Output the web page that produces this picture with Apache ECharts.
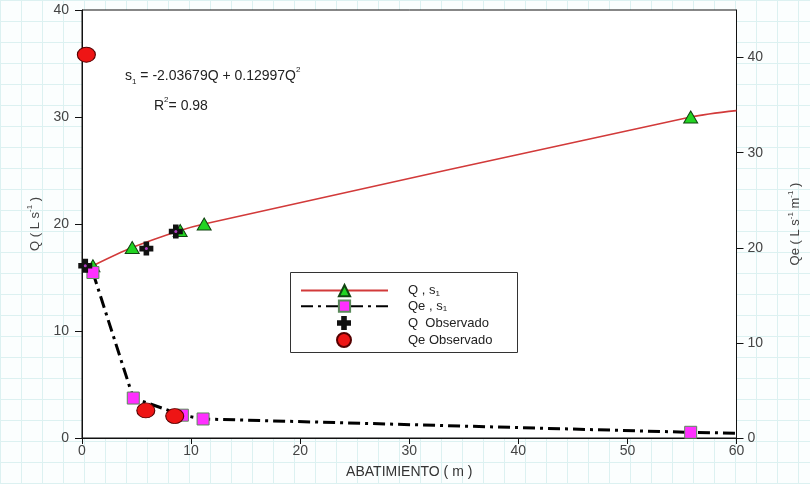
<!DOCTYPE html>
<html><head><meta charset="utf-8">
<script src="https://cdn.jsdelivr.net/npm/echarts@6/dist/echarts.min.js"></script>
<style>
html,body{margin:0;padding:0;}
body{width:810px;height:484px;background-color:#fbfefe;
background-image:linear-gradient(to right,#dcf1f1 1px,transparent 1px),linear-gradient(to bottom,#dcf1f1 1px,transparent 1px);
background-size:21px 21px;}
#c{width:810px;height:484px;}
</style></head><body>
<div id="c"></div>
<script>
// ---- data ----
const qFitX = [1.0, 4.6, 9.0, 11.2, 55.8, 60];
const qFitY = [16.1, 17.8, 19.4, 20.0, 30.0, 30.6];
const qFitMarker = [true, true, true, true, true, false];
const qeFitX = [1.0, 4.7, 9.2, 11.1, 55.8, 60];
const qeFitY = [17.4, 4.2, 2.4, 2.0, 0.6, 0.5];
const qeFitMarker = [true, true, true, true, true, false];
const qObsX = [0.3, 5.9, 8.6];
const qObsY = [16.1, 17.7, 19.3];
const qeObsX = [0.4, 5.85, 8.5];
const qeObsY = [40.3, 2.9, 2.3];
const xTicks = [0, 10, 20, 30, 40, 50, 60];
const yLeftTicks = [0, 10, 20, 30, 40];
const yRightTicks = [0, 10, 20, 30, 40];

const FONT = '"Liberation Sans", Arial, sans-serif';
const pair = (xs, ys, marks) => xs.map((x, i) => marks && !marks[i] ? {value:[x, ys[i]], symbol:'none'} : [x, ys[i]]);
const plusPath = 'path://M3,0 L7,0 L7,3 L10,3 L10,7 L7,7 L7,10 L3,10 L3,7 L0,7 L0,3 L3,3 Z';
const richAx = {
  n:{fontSize:13, color:'#444', fontFamily:FONT, lineHeight:18},
  sup:{fontSize:8, color:'#444', fontFamily:FONT, verticalAlign:'top', lineHeight:18}
};
const axLabel = {fontSize:14, color:'#444', fontFamily:FONT};

const chart = echarts.init(document.getElementById('c'));
chart.setOption({
  animation:false,
  backgroundColor:'transparent',
  grid:{left:82, right:71, top:10, bottom:44, show:true, backgroundColor:'#ffffff', borderColor:'#111', borderWidth:1},
  xAxis:{type:'value', min:0, max:60, interval:10,
    name:'ABATIMIENTO ( m )', nameLocation:'middle', nameGap:27,
    nameTextStyle:{fontSize:14, color:'#333', fontFamily:FONT},
    axisLine:{lineStyle:{color:'#111'}}, axisTick:{length:6, lineStyle:{color:'#111'}, customValues:xTicks},
    axisLabel:Object.assign({margin:6, customValues:xTicks}, axLabel), splitLine:{show:false}},
  yAxis:[
    {type:'value', min:0, max:40, interval:10, position:'left',
     name:'{n|Q ( L s}{sup|-1}{n| )}', nameLocation:'middle', nameGap:38, nameRotate:90,
     nameTextStyle:{rich:richAx},
     axisLine:{show:true, lineStyle:{color:'#111'}}, axisTick:{show:true, length:7, lineStyle:{color:'#111'}, customValues:yLeftTicks},
     axisLabel:Object.assign({margin:13, customValues:yLeftTicks}, axLabel), splitLine:{show:false}},
    {type:'value', min:0, max:45, position:'right',
     name:'{n|Qe ( L s}{sup|-1}{n| m}{sup|-1}{n| )}', nameLocation:'middle', nameGap:50, nameRotate:90,
     nameTextStyle:{rich:richAx},
     axisLine:{show:true, lineStyle:{color:'#111'}}, axisTick:{show:true, length:7, lineStyle:{color:'#111'}, customValues:yRightTicks},
     axisLabel:Object.assign({margin:11, customValues:yRightTicks}, axLabel), splitLine:{show:false}}
  ],
  legend:[
    {orient:'vertical', left:295, top:279, itemWidth:87, itemHeight:14, itemGap:2,
     data:['Q , s1', 'Qe , s1'],
     formatter:n => n === 'Q , s1' ? '{t|Q , s}{s|1}' : '{t|Qe , s}{s|1}',
     textStyle:{padding:[0,0,0,15], rich:{t:{fontSize:13, color:'#222', fontFamily:FONT, lineHeight:14}, s:{fontSize:8, color:'#222', fontFamily:FONT, verticalAlign:'bottom', lineHeight:10}}}},
    {orient:'vertical', left:331, top:311, itemWidth:14, itemHeight:14, itemGap:2,
     data:['Q  Observado', 'Qe Observado'],
     textStyle:{fontSize:13, color:'#222', fontFamily:FONT, lineHeight:14, padding:[0,0,0,52]}}
  ],
  graphic:[
    {type:'rect', left:290, top:272, shape:{width:227, height:80}, style:{fill:'#fff', stroke:'#333', lineWidth:1}, z:1},
    {type:'text', left:125, top:66, z:10, style:{
      text:'{t|s}{s|1}{t| = -2.03679Q + 0.12997Q}{p|2}',
      rich:{t:{fontSize:14, fill:'#222', fontFamily:FONT, lineHeight:20}, s:{fontSize:8, fill:'#222', fontFamily:FONT, verticalAlign:'bottom', lineHeight:14}, p:{fontSize:8, fill:'#222', fontFamily:FONT, verticalAlign:'top', lineHeight:20}}}},
    {type:'text', left:154, top:96, z:10, style:{
      text:'{t|R}{p|2}{t|= 0.98}',
      rich:{t:{fontSize:14, fill:'#222', fontFamily:FONT, lineHeight:20}, p:{fontSize:8, fill:'#222', fontFamily:FONT, verticalAlign:'top', lineHeight:20}}}}
  ],
  series:[
    {name:'Q , s1', type:'line', yAxisIndex:0, smooth:0.3, data:pair(qFitX, qFitY, qFitMarker),
     lineStyle:{color:'#d23a3a', width:1.6}, symbol:'triangle', symbolSize:[14,12],
     itemStyle:{color:'#22d422', borderColor:'#114411', borderWidth:1}, z:3},
    {name:'Qe , s1', type:'line', yAxisIndex:1, data:pair(qeFitX, qeFitY, qeFitMarker),
     lineStyle:{color:'#000', width:3, type:[12,5,3,5]}, symbol:'rect', symbolSize:12,
     itemStyle:{color:'#ff30ff', borderColor:'#5a8a5a', borderWidth:1}, z:3},
    {name:'Q  Observado', type:'scatter', yAxisIndex:0, data:pair(qObsX, qObsY), symbol:plusPath, symbolSize:14,
     itemStyle:{color:'#111', opacity:1}, z:5},
    {name:'Q obs centro', type:'scatter', yAxisIndex:0, data:pair(qObsX, qObsY), symbol:'circle', symbolSize:3,
     itemStyle:{color:'#b040c0', opacity:1}, z:6, silent:true},
    {name:'Qe Observado', type:'scatter', yAxisIndex:1, data:pair(qeObsX, qeObsY), symbol:'circle', symbolSize:[18,15],
     itemStyle:{color:'#ee1515', borderColor:'#550000', borderWidth:1, opacity:1}, z:5}
  ]
});
</script>
</body></html>
